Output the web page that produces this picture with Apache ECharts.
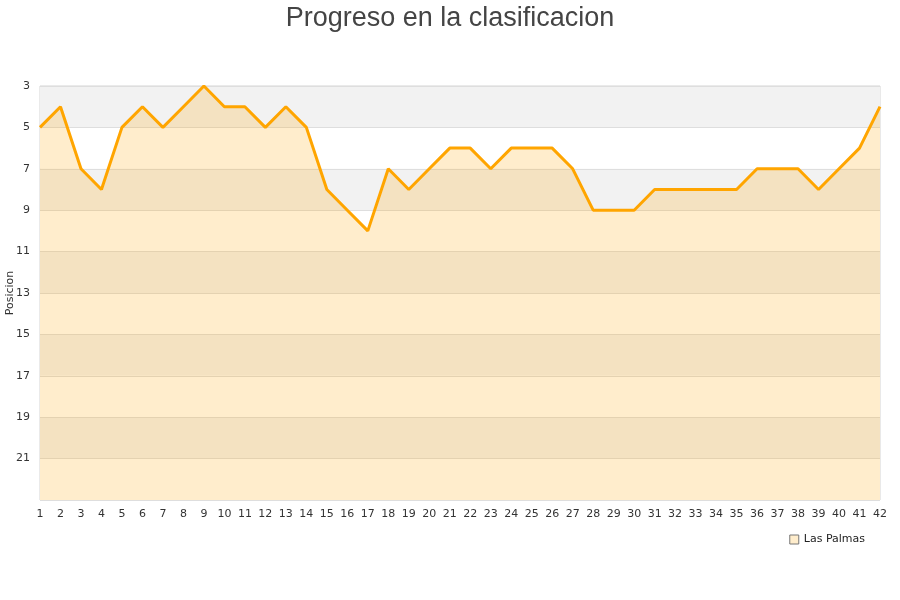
<!DOCTYPE html>
<html><head><meta charset="utf-8">
<script src="https://cdn.jsdelivr.net/npm/echarts@6/dist/echarts.min.js"></script>
<style>html,body{margin:0;padding:0;background:#fff}#c{width:900px;height:600px}</style>
</head><body><div id="c"></div>
<script>
const jornadas = Array.from({length: 42}, (_, i) => String(i + 1));
const posiciones = [5,4,7,8,5,4,5,4,3,4,4,5,4,5,8,9,10,7,8,7,6,6,7,6,6,6,7,9,9,9,8,8,8,8,8,7,7,7,8,7,6,4];
const equipo = 'Las Palmas';
const titulo = 'Progreso en la clasificacion';
const ejeY = 'Posicion';

const chart = echarts.init(document.getElementById('c'), null, {renderer: 'canvas'});
chart.setOption({
  animation: false,
  backgroundColor: '#fff',
  title: {
    text: titulo, left: 'center', top: 0,
    textStyle: {fontFamily: 'Liberation Sans', fontSize: 27, fontWeight: 'normal', color: '#444'}
  },
  legend: {
    right: 30, top: 529, itemWidth: 9, itemHeight: 9, icon: 'rect',
    textStyle: {fontFamily: 'DejaVu Sans', fontSize: 11, color: '#222'},
    data: [{name: equipo, itemStyle: {color: '#ffedcc', borderColor: '#777', borderWidth: 1}}]
  },
  grid: {left: 40, right: 20, top: 86, bottom: 100, containLabel: false, outerBoundsMode: 'none',
    show: true, borderColor: '#d4d4d4', borderWidth: 1},
  xAxis: {
    type: 'category', data: jornadas, boundaryGap: false,
    axisLine: {show: false}, axisTick: {show: false},
    axisLabel: {interval: 0, fontFamily: 'DejaVu Sans', fontSize: 11, color: '#333', margin: 9}
  },
  yAxis: {
    type: 'value', inverse: true, min: 3, max: 23, interval: 2,
    name: ejeY, nameLocation: 'middle', nameGap: 24, nameRotate: 90, nameMoveOverlap: false,
    nameTextStyle: {fontFamily: 'DejaVu Sans', fontSize: 11, color: '#333'},
    axisLine: {show: false}, axisTick: {show: false},
    axisLabel: {fontFamily: 'DejaVu Sans', fontSize: 11, color: '#333', margin: 10,
      formatter: v => v === 23 ? '' : String(v)},
    splitLine: {lineStyle: {color: '#dedede', width: 1}},
    splitArea: {show: true, areaStyle: {color: ['#f2f2f2', '#ffffff']}}
  },
  series: [{
    name: equipo, type: 'line', data: posiciones, showSymbol: false, symbol: 'none',
    lineStyle: {color: '#ffa500', width: 3},
    itemStyle: {color: '#ffedcc'},
    areaStyle: {color: '#ffa500', opacity: 0.2, origin: 'end'}
  }]
});
</script></body></html>
